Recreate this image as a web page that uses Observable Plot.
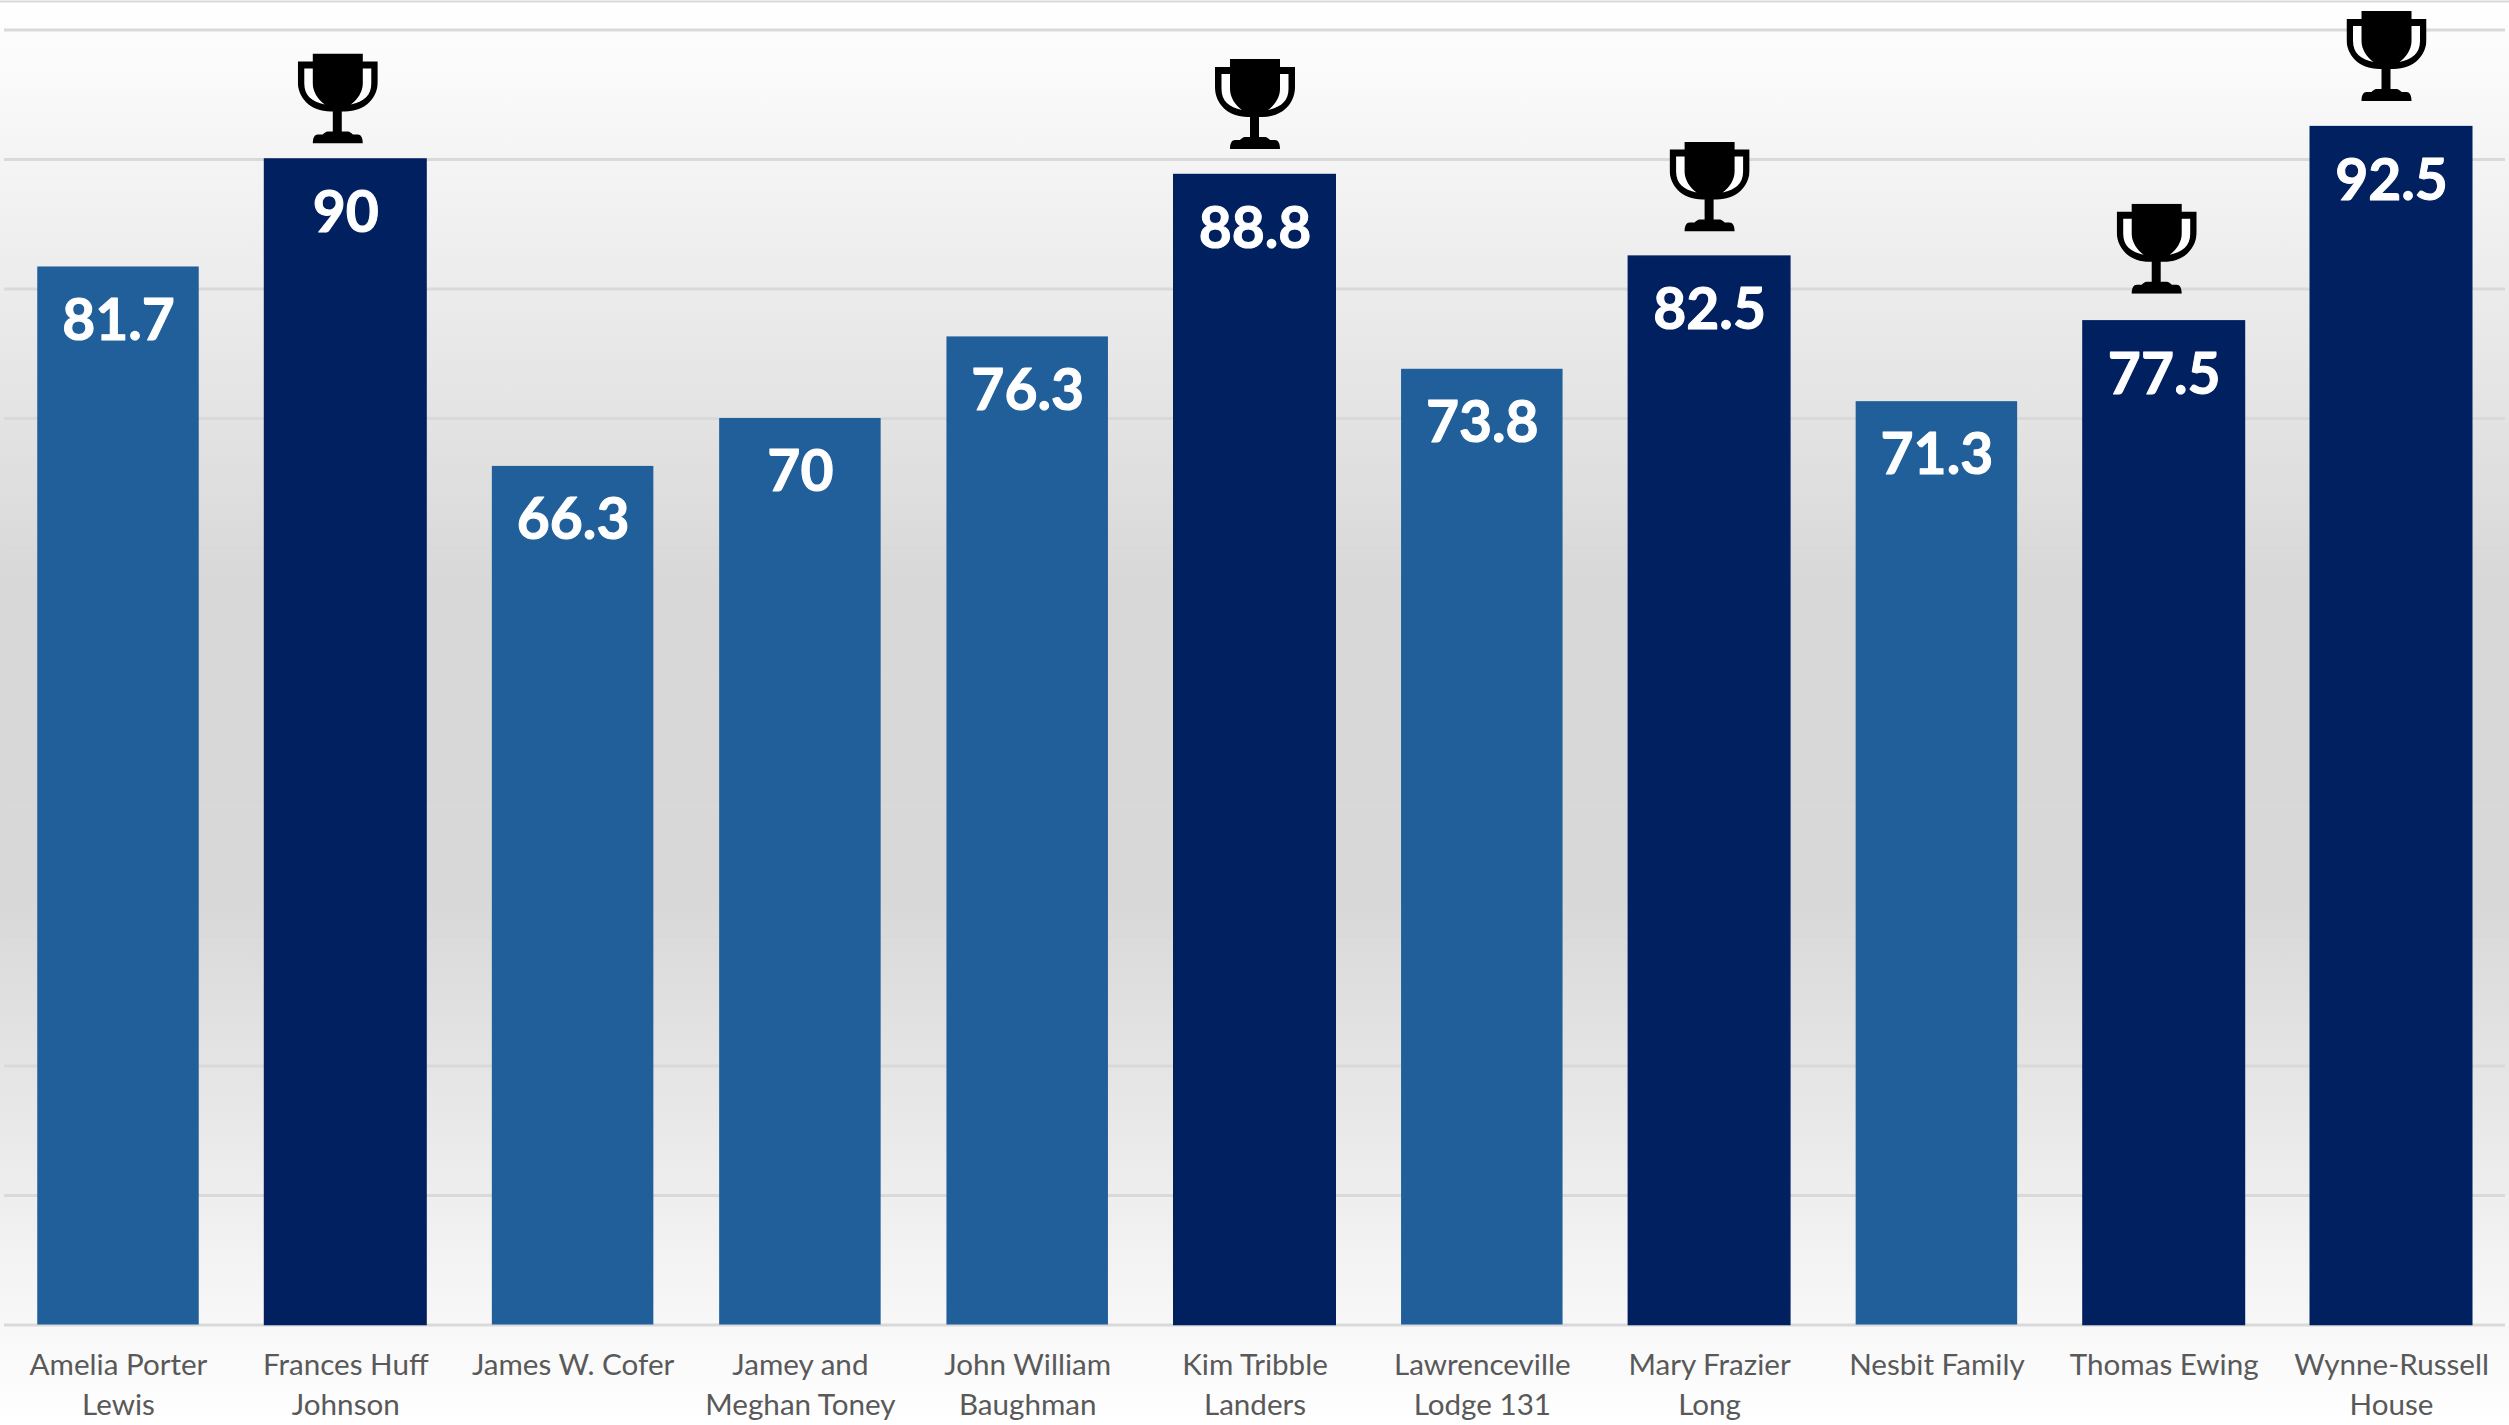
<!DOCTYPE html>
<html>
<head>
<meta charset="utf-8">
<script src="https://cdn.jsdelivr.net/npm/d3@7"></script>
<script src="https://cdn.jsdelivr.net/npm/@observablehq/plot@0.6"></script>
<style>
html,body{margin:0;padding:0;background:#fff;}
svg{display:block;}
</style>
</head>
<body>
<div id="chart"></div>
<script>
const names = ["Amelia Porter Lewis","Frances Huff Johnson","James W. Cofer","Jamey and Meghan Toney","John William Baughman","Kim Tribble Landers","Lawrenceville Lodge 131","Mary Frazier Long","Nesbit Family","Thomas Ewing","Wynne-Russell House"];
const tickLabels = ["Amelia Porter\nLewis","Frances Huff\nJohnson","James W. Cofer","Jamey and\nMeghan Toney","John William\nBaughman","Kim Tribble\nLanders","Lawrenceville\nLodge 131","Mary Frazier\nLong","Nesbit Family","Thomas Ewing","Wynne-Russell\nHouse"];
const scores = [81.7,90,66.3,70,76.3,88.8,73.8,82.5,71.3,77.5,92.5];
const winners = ["Frances Huff Johnson","Kim Tribble Landers","Mary Frazier Long","Thomas Ewing","Wynne-Russell House"];
const gridValues = [0,10,20,30,40,50,60,70,80,90,100];
const trophyNudge = [[-8,-61],[0,-71],[0,-70],[-7.5,-72.5],[-5,-71]];

const rows = names.map((name,i)=>({name,score:scores[i],winner:winners.includes(name)}));
const labelOf = new Map(names.map((n,i)=>[n,tickLabels[i]]));

const trophySvg = `<svg xmlns="http://www.w3.org/2000/svg" viewBox="0 0 80 90" width="80" height="90"><path fill="#000" d="M15 0H65V8H80V28C80 44 68 58 47 58H44V78H50C52 78 54 80 55 81H60C63 81 65 84 65 90H15C15 84 17 81 20 81H25C26 80 28 78 30 78H35V58H33C12 58 0 44 0 28V8H15Z"/><path fill="#fff" d="M6.5 15H15V30C15 38 20 46 27 51C14 48 6.5 42 6.5 30Z"/><path fill="#fff" d="M73.5 15H65V30C65 38 60 46 53 51C66 48 73.5 42 73.5 30Z"/></svg>`;
const trophyHref = "data:image/svg+xml;charset=utf-8," + encodeURIComponent(trophySvg);

const chart = Plot.plot({
  width: 2509,
  height: 1425,
  marginTop: 0, marginRight: 0, marginBottom: 0, marginLeft: 0,
  style: {
    background: "linear-gradient(180deg,#ffffff 0%,#d8d8d8 41%,#d8d8d8 63%,#ffffff 100%)",
    fontFamily: "Lato, Carlito, sans-serif"
  },
  x: {domain: names, range: [4.35,2504.65], paddingInner: 0.2895, paddingOuter: 0.1447, round: false, axis: null},
  y: {domain: [0,102.2], range: [1324.5,1], axis: null},
  color: {domain: [false,true], range: ["#205F9A","#002060"]},
  marks: [
    Plot.ruleY(gridValues,{stroke:"#D9D9D9",strokeWidth:3,insetLeft:4,insetRight:4}),
    Plot.ruleY([102.2],{stroke:"#D9D9D9",strokeWidth:2}),
    Plot.barY(rows.filter(d=>!d.winner),{x:"name",y:"score",fill:"winner"}),
    Plot.barY(rows.filter(d=>d.winner),{x:"name",y:"score",fill:"winner",stroke:"winner",strokeWidth:1.5}),
    Plot.text(rows,{x:"name",y:"score",text:d=>String(d.score),dy:54.5,fill:"#fff",stroke:"#fff",strokeWidth:1,fontSize:57,fontWeight:700,fontFamily:"Lato, sans-serif",textAnchor:"middle",lineAnchor:"middle"}),
    ...winners.map((w,i)=>Plot.image(rows.filter(d=>d.name===w),{x:"name",y:"score",src:()=>trophyHref,width:80,height:90,dx:trophyNudge[i][0],dy:trophyNudge[i][1]})),
    Plot.axisX({anchor:"bottom",y:0,tickSize:0,tickPadding:22.5,fontSize:29.6,fontFamily:"Lato, sans-serif",color:"#595959",lineHeight:1.33,tickFormat:d=>labelOf.get(d),label:null,lineAnchor:"top"})
  ]
});
document.getElementById("chart").appendChild(chart);
</script>
</body>
</html>
